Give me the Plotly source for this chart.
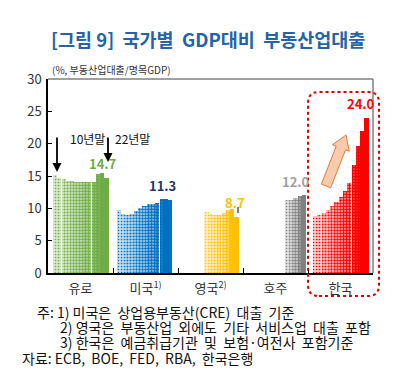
import plotly.graph_objects as go
import math

# ---- data ----
countries = ["유로", "미국", "영국", "호주", "한국"]
tick_labels = ["유로", "미국<sup>1)</sup>", "영국<sup>2)</sup>", "호주", "한국"]
euro = [15.2, 14.7, 14.5, 14.3, 14.2, 14.0, 14.0, 14.0, 14.0, 14.1, 15.3, 15.4, 14.7]
usa = [9.8, 9.1, 9.0, 9.2, 9.6, 10.0, 10.4, 10.6, 10.7, 10.8, 11.4, 11.4, 11.3]
uk = [9.4, 9.2, 9.0, 9.0, 9.3, 9.8, 9.9, 8.7]
aus = [11.3, 11.3, 11.6, 11.9, 12.0]
kor = [8.8, 9.0, 9.3, 9.7, 10.3, 11.0, 11.8, 12.7, 13.9, 16.7, 19.6, 21.9, 24.0]
series = [euro, usa, uk, aus, kor]
last_labels = ["14.7", "11.3", "8.7", "12.0", "24.0"]

# ---- style ----
colors = ["#70AD47", "#0070C0", "#FFC000", "#808080", "#FF0000"]
tints = ["#D5E8C8", "#BFDDF2", "#FFEFBF", "#DDDDDD", "#FFC8C8"]
label_colors = ["#70AD47", "#1F3864", "#FFC000", "#A0A0A0", "#FF0000"]
label_xshift = [-4, -8, -2, -8, -6]
end_offsets = [0.90, 0.88, 0.90, 0.94, 0.90]
step = 0.066
FONT = "Noto Sans CJK KR"

PL, PR, PT, PB = 40, 365, 71, 265  # plot area in pixels
W, H = 396, 375
def px(x):
    return (x - PL) / (PR - PL)
def py(y):
    return (PB - y) / (PB - PT)

fig = go.Figure()
for gi, vals in enumerate(series):
    n = len(vals)
    xs = [gi + end_offsets[gi] - (n - 1 - k) * step for k in range(n)]
    sol = [min(1.0, round(0.2 + 0.8 * k / (n - 1), 3)) for k in range(n)]
    fig.add_trace(go.Bar(
        x=xs, y=vals, width=step * 0.98,
        marker=dict(color=tints[gi], line=dict(width=0),
                    pattern=dict(shape=".", fgcolor=colors[gi], bgcolor=tints[gi],
                                 solidity=sol, size=3, fillmode="replace")),
        showlegend=False, hoverinfo="skip"))
    fig.add_annotation(x=xs[-1], y=vals[-1], text="<b>%s</b>" % last_labels[gi],
                       showarrow=False, yshift=14, xshift=label_xshift[gi],
                       font=dict(family=FONT, size=13, color=label_colors[gi]))

fig.update_layout(
    width=W, height=H,
    margin=dict(l=PL, r=W - PR, t=PT, b=H - PB),
    paper_bgcolor="white", plot_bgcolor="white",
    bargap=0, font=dict(family=FONT, color="#333333"),
    xaxis=dict(range=[0, 5], tickvals=[i + 0.5 for i in range(5)], ticktext=tick_labels,
               showline=True, linecolor="black", linewidth=1.5, ticks="", automargin=False,
               tickfont=dict(size=13, color="#333333"), showgrid=False, zeroline=False,
               ticklabelstandoff=3,
               minor=dict(tickvals=[1, 2, 3, 4], ticks="inside", ticklen=5, tickcolor="black")),
    yaxis=dict(range=[0, 30], dtick=5, showline=True, linecolor="black", linewidth=1.5,
               ticks="inside", ticklen=4, tickcolor="black", showgrid=False, zeroline=False,
               automargin=False,
               tickfont=dict(size=13, color="#333333"), ticklabelstandoff=2),
)

# frame top/right
fig.add_shape(type="line", xref="paper", yref="paper", x0=0, x1=1, y0=1, y1=1,
              line=dict(color="#808080", width=1.5))
fig.add_shape(type="line", xref="paper", yref="paper", x0=1, x1=1, y0=0, y1=1,
              line=dict(color="#808080", width=1.5))

# title + subtitle
fig.add_annotation(xref="paper", yref="paper", x=px(200), y=py(31), xanchor="center", yanchor="middle",
                   text="<b>[그림 9]  국가별  GDP대비  부동산업대출</b>", showarrow=False,
                   font=dict(family=FONT, size=18.5, color="#2563A6"))
fig.add_annotation(xref="paper", yref="paper", x=px(42), y=py(62), xanchor="left", yanchor="middle",
                   text="(%, 부동산업대출/명목GDP)", showarrow=False,
                   font=dict(family=FONT, size=10, color="#333333"))

# year markers
for txt, tx, ax0, y0, y1 in [("10년말", 60, 49, 128, 164), ("22년말", 105, 100, 128, 154)]:
    fig.add_annotation(xref="paper", yref="paper", x=px(tx), y=py(120), text=txt, showarrow=False,
                       font=dict(family=FONT, size=12, color="#111111"))
    fig.add_annotation(xref="paper", yref="paper", x=px(ax0), y=py(y1), ax=0, ay=-(y1 - y0),
                       showarrow=True, arrowhead=2, arrowsize=1,
                       arrowwidth=1.8, arrowcolor="black", text="")

# small pointer at UK
fig.add_shape(type="line", xref="paper", yref="paper", x0=px(230), x1=px(230), y0=py(199), y1=py(205),
              line=dict(color="black", width=1))

# red rounded dotted box
x0, x1, y0, y1, r = 300, 371, 84, 288, 11
rx, ry = r / (PR - PL), r / (PB - PT)
X0, X1, Y0, Y1 = px(x0), px(x1), py(y1), py(y0)
path = (f"M {X0+rx},{Y0} L {X1-rx},{Y0} Q {X1},{Y0} {X1},{Y0+ry} L {X1},{Y1-ry} "
        f"Q {X1},{Y1} {X1-rx},{Y1} L {X0+rx},{Y1} Q {X0},{Y1} {X0},{Y1-ry} "
        f"L {X0},{Y0+ry} Q {X0},{Y0} {X0+rx},{Y0} Z")
fig.add_shape(type="path", xref="paper", yref="paper", path=path,
              line=dict(color="#E00000", width=2, dash="dot"))

# block arrow
tx_, ty_, hx, hy = 318, 178, 338, 127
dx, dy = hx - tx_, hy - ty_
ln = math.hypot(dx, dy)
ux, uy = dx / ln, dy / ln
nx, ny = -uy, ux
sw, hw, hl = 5, 9, 14
bx, by = hx - hl * ux, hy - hl * uy
pts = [(tx_ + sw * nx, ty_ + sw * ny), (bx + sw * nx, by + sw * ny), (bx + hw * nx, by + hw * ny),
       (hx, hy), (bx - hw * nx, by - hw * ny), (bx - sw * nx, by - sw * ny), (tx_ - sw * nx, ty_ - sw * ny)]
apath = "M " + " L ".join(f"{px(a)},{py(b)}" for a, b in pts) + " Z"
fig.add_shape(type="path", xref="paper", yref="paper", path=apath,
              fillcolor="#F8CBAD", line=dict(color="#E07B39", width=1))

# footnotes
notes = [(27, 304, "주: 1) 미국은  상업용부동산(CRE)  대출  기준"),
         (50, 319, "2) 영국은  부동산업  외에도  기타  서비스업  대출  포함"),
         (50, 334, "3) 한국은  예금취급기관  및  보험·여전사  포함기준"),
         (12, 350, "자료: ECB,  BOE,  FED,  RBA,  한국은행")]
for x, y, t in notes:
    fig.add_annotation(xref="paper", yref="paper", x=px(x), y=py(y), xanchor="left", yanchor="middle",
                       text=t, showarrow=False, font=dict(family=FONT, size=14, color="#111111"))

fig.write_html("out.html")
